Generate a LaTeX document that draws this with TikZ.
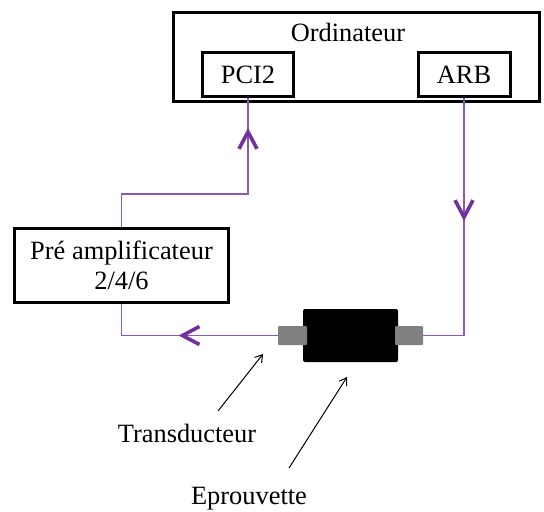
\documentclass[tikz,border=0pt]{standalone}
\usepackage{fontspec}
\setmainfont{Liberation Serif}
\usetikzlibrary{arrows.meta,decorations.markings}
\definecolor{wirePurple}{RGB}{112,48,160}
\definecolor{probeGray}{RGB}{128,128,128}

\tikzset{
  box/.style={draw, line width=1.5pt, inner sep=0pt},
  wire/.style={wirePurple!80, line width=0.6pt},
  chevron/.style={postaction={decorate, decoration={markings,
      mark=at position #1 with {\arrow{Straight Barb[length=8.5pt,width=9pt,line width=1.8pt,color=wirePurple]}}}}},
  pointer/.style={-{Straight Barb[length=3.5pt,width=4.5pt]}, line width=0.5pt},
}

\begin{document}
\begin{tikzpicture}[x=0.5pt, y=-0.5pt, font=\fontsize{13.2}{15}\selectfont]
  \useasboundingbox (0,0) rectangle (544,511);

  % ordinateur et cartes
  \node[box, minimum width=183pt, minimum height=44.5pt] (ordi) at (356.5,57) {};
  \node (ordiLabel) at (348,32) {Ordinateur};
  \node[box, minimum width=45.5pt, minimum height=22pt] (pci) at (248,74.5) {PCI2};
  \node[box, minimum width=46pt, minimum height=22pt] (arb) at (464,74.5) {ARB};

  % pre-ampli
  \node[box, align=center, minimum width=107pt, minimum height=37pt] (preamp) at (121.5,265)
    {Pré amplificateur\\2/4/6};

  % eprouvette + transducteurs
  \node[fill=black, rounded corners=1pt, inner sep=0pt,
        minimum width=47.5pt, minimum height=26.5pt] (epr) at (350.5,335.5) {};
  \node[fill=probeGray, rounded corners=0.5pt, inner sep=0pt,
        minimum width=14.5pt, minimum height=9.5pt] (transL) at (292.5,335.5) {};
  \node[fill=probeGray, rounded corners=0.5pt, inner sep=0pt,
        minimum width=14pt, minimum height=9.5pt] (transR) at (409,335.5) {};

  % liaisons
  \coordinate (pciBend) at (248,194);
  \draw[wire, chevron=112.5pt] (preamp.north) |- (pciBend) -- (pci.south);
  \draw[wire, chevron=61.5pt] (arb.south) |- (transR.east);
  \draw[wire, chevron=49.5pt] (transL.west) -| (preamp.south);

  % legendes
  \node (transLabel) at (187,433) {Transducteur};
  \node (eprLabel) at (249,499) {Eprouvette};
  \coordinate (transTail) at (218,411);
  \coordinate (transHead) at (263,354);
  \coordinate (eprTail) at (289,468);
  \coordinate (eprHead) at (347,377);
  \draw[pointer] (transTail) -- (transHead);
  \draw[pointer] (eprTail) -- (eprHead);
\end{tikzpicture}
\end{document}
